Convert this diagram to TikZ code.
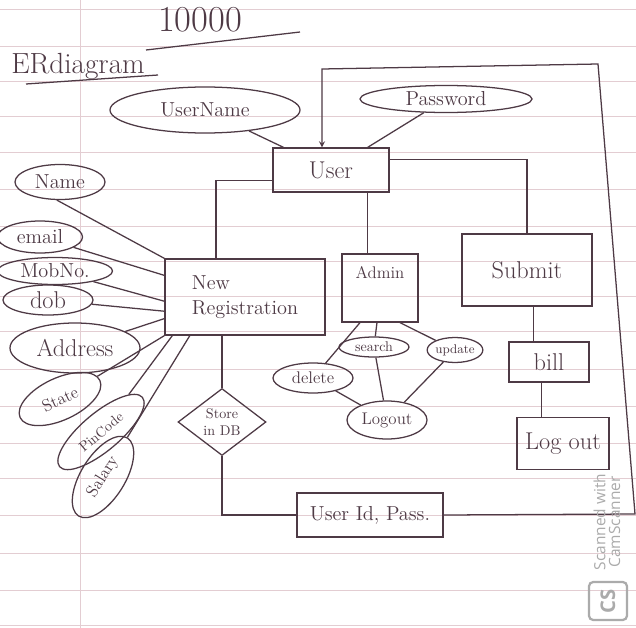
\documentclass[tikz,border=0pt]{standalone}
\usepackage{fontspec}
\usepackage{xcolor}
\usepackage{tikz}
\usetikzlibrary{positioning,shapes.geometric}
\newfontfamily\scanfont{Open Sans}
\definecolor{ERInk}{HTML}{4E3A45}
\definecolor{ERLine}{HTML}{E3CDD2}
\definecolor{ERScan}{HTML}{ABABAB}

\tikzset{
  ent/.style={draw,inner sep=2pt,font=\LARGE},
  attr/.style={draw,ellipse,inner sep=0pt,font=\Large},
  rel/.style={draw,diamond,aspect=1.3,inner sep=1pt,align=center},
  paperline/.style={ERLine,line width=0.6pt}
}

\begin{document}
\begin{tikzpicture}[x=0.25mm,y=-0.25mm,ERInk,line width=0.9pt]
\path[use as bounding box,fill=white] (0,0) rectangle (636,628);
% ruled paper
\foreach \ry in {9,46,81,116,152,189,226,261,296,331,369,406,443,478,515,553,590,625}
  \draw[paperline] (0,\ry) -- (636,\ry);
\draw[paperline,line width=0.4pt] (80,0) -- (80,628);

% headings
\node[font=\fontsize{26}{28}\selectfont,inner sep=1pt] (amount) at (200,20) {10000};
\coordinate (amountL) at (146,50);
\coordinate (amountR) at (300,32);
\draw (amountL) -- (amountR);
\node[font=\huge] (title) at (78,66) {ERdiagram};
\coordinate (titleL) at (26,84);
\coordinate (titleR) at (158,75);
\draw (titleL) -- (titleR);

% entities
\node[ent,minimum width=29mm,minimum height=11mm] (user) at (331,170) {User};
\node[ent,minimum width=40mm,minimum height=19mm,align=left,font=\Large] (newreg) at (245,297) {New\\Registration};
\node[ent,minimum width=19mm,minimum height=17mm,label={[anchor=north,font=\large,yshift=-2mm]north:Admin}] (admin) at (380,288) {};
\node[ent,minimum width=32.5mm,minimum height=18mm] (submit) at (527,270) {Submit};
\node[ent,minimum width=20mm,minimum height=10mm] (bill) at (549,362) {bill};
\node[ent,minimum width=23mm,minimum height=13mm,below=8.5mm of bill,xshift=3.5mm] (logout) {Log out};
\node[ent,minimum width=36.5mm,minimum height=11mm,font=\Large] (userid) at (370,515) {User Id, Pass.};
\node[rel,minimum width=22mm,minimum height=16.75mm] (storedb) at (222,422) {Store\\in DB};

% attributes
\node[attr,minimum width=47.5mm,minimum height=11.5mm] (username) at (205,110) {UserName};
\node[attr,minimum width=43mm,minimum height=6.75mm] (password) at (446,99) {Password};
\node[attr,minimum width=22.5mm,minimum height=8.75mm] (name) at (60,182) {Name};
\node[attr,minimum width=21.25mm,minimum height=8mm] (email) at (40,237) {email};
\node[attr,minimum width=28.75mm,minimum height=6.75mm] (mobno) at (55,271) {MobNo.};
\node[attr,minimum width=22.5mm,minimum height=7.5mm,font=\LARGE] (dob) at (48,300) {dob};
\node[attr,minimum width=32.5mm,minimum height=12.5mm,font=\LARGE] (address) at (75,348) {Address};
\node[attr,minimum width=22mm,minimum height=10.5mm,rotate=25,font=\large] (state) at (60,399) {State};
\node[attr,minimum width=27mm,minimum height=9.5mm,rotate=40,font=\normalsize] (pincode) at (101,432) {PinCode};
\node[attr,minimum width=23mm,minimum height=11mm,rotate=58,font=\large] (salary) at (103,477) {Salary};
\node[attr,minimum width=17.5mm,minimum height=5mm,font=\normalsize] (search) at (374,347) {search};
\node[attr,minimum width=13.75mm,minimum height=6.25mm,font=\small] (update) at (455,350) {update};
\node[attr,minimum width=20mm,minimum height=7.5mm,font=\large] (delete) at (313,378) {delete};
\node[attr,minimum width=20mm,minimum height=9.5mm,font=\large] (logoutattr) at (387,420) {Logout};

% user links
\draw (username) -- (user);
\draw (password) -- (user);
\draw (user.-170) -| (newreg.127);
\draw (admin.110) -- (admin.110 |- user.south);
\draw (user.10) -| (submit.north);
\draw (submit.-80) -- (submit.-80 |- bill.north);
\draw (bill.-110) -- (bill.-110 |- logout.north);
\draw (storedb.north |- newreg.south) -- (storedb.north);
\draw (storedb.south) |- (userid.west);
\coordinate (loopBR) at (635,514);
\coordinate (loopTR) at (598,64);
\coordinate (loopTL) at (322,69);
\draw[-stealth] (userid.east) -- (loopBR) -- (loopTR) -- (loopTL) -- (loopTL |- user.north);

% registration fields
\draw (name.-100) -- (newreg.north west);
\draw (email) -- (newreg.165);
\draw (mobno) -- (newreg.-177);
\draw (dob) -- (newreg.-170);
\draw (address) -- (newreg.-165);
\draw (state) -- (newreg.south west);
\draw (pincode) -- (newreg.-152);
\draw (salary) -- (newreg.-145);

% admin operations
\draw (admin.-120) -- (delete);
\draw (admin.-95) -- (search);
\draw (admin.-60) -- (update);
\draw (search) -- (logoutattr);
\draw (update) -- (logoutattr);
\draw (delete) -- (logoutattr);

% scanner mark
\node[ERScan,rotate=90,align=center,inner sep=1pt,font=\scanfont\fontsize{11}{10.5}\selectfont] (scanmark) at (607,522) {Scanned with\\CamScanner};
\node[draw=ERScan,line width=1.6pt,rounded corners=3pt,minimum size=9.5mm,text=ERScan,rotate=90,font=\scanfont\Large\bfseries] (scanlogo) at (608,601) {CS};
\end{tikzpicture}
\end{document}
